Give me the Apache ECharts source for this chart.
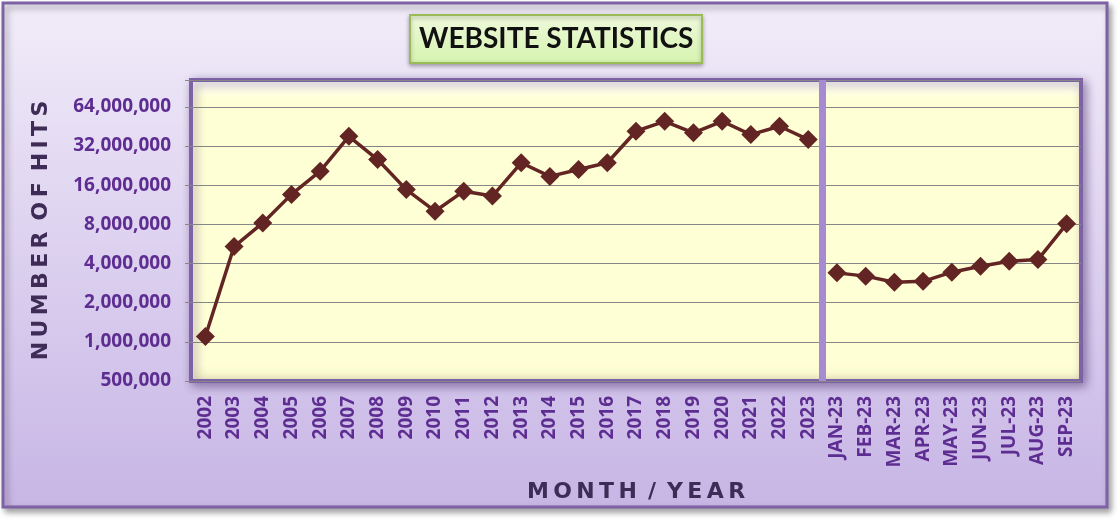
<!DOCTYPE html>
<html>
<head>
<meta charset="utf-8">
<script src="https://cdn.jsdelivr.net/npm/echarts@6/dist/echarts.min.js"></script>
<style>
html,body{margin:0;padding:0;background:#ffffff;}
#chart{width:1119px;height:521px;}
</style>
</head>
<body>
<div id="chart"></div>
<script>
// ---- data ----
const YEARS = ['2002','2003','2004','2005','2006','2007','2008','2009','2010','2011','2012','2013','2014','2015','2016','2017','2018','2019','2020','2021','2022','2023'];
const YEAR_HITS = [1100000, 5400000, 8200000, 13600000, 20500000, 38000000, 25200000, 14800000, 10100000, 14400000, 13200000, 23800000, 18700000, 21100000, 23800000, 41600000, 49600000, 40400000, 49600000, 39200000, 45400000, 35900000];
const MONTHS = ['JAN-23','FEB-23','MAR-23','APR-23','MAY-23','JUN-23','JUL-23','AUG-23','SEP-23'];
const MONTH_HITS = [3390000, 3200000, 2870000, 2920000, 3430000, 3810000, 4160000, 4290000, 8070000];
const Y_TICKS = [500000, 1000000, 2000000, 4000000, 8000000, 16000000, 32000000, 64000000];
const Y_MAX = 103000000;

// ---- build ----
const BASE = Y_TICKS[0];
const toLog = v => (v == null ? null : Math.log2(v / BASE));
const categories = YEARS.concat(MONTHS);
const yearSeries = YEAR_HITS.map(toLog).concat(MONTHS.map(() => null));
const monthSeries = YEARS.map(() => null).concat(MONTH_HITS.map(toLog));
// letter-spaced axis names (thin spaces between letters, en spaces between words)
const spaced = s => s.split(' ').map(w => w.split('').join('\u2009')).join('\u2002');

const labelColor = '#5E2D91';
const nameColor = '#3E2C57';
const frameColor = '#7E62A6';
const lineColor = '#632523';

const chart = echarts.init(document.getElementById('chart'), null, {renderer: 'canvas'});
const W = 1119;

const lineSeries = (data) => ({
  type: 'line',
  data: data,
  xAxisIndex: 0,
  yAxisIndex: 0,
  connectNulls: false,
  symbol: 'diamond',
  symbolSize: 19,
  lineStyle: {color: lineColor, width: 3.5},
  itemStyle: {color: lineColor},
  animation: false,
  z: 5
});

chart.setOption({
  animation: false,
  graphic: [{
    type: 'rect',
    z: -10,
    shape: {x: 3, y: 3, width: 1104, height: 504},
    style: {
      fill: new echarts.graphic.LinearGradient(0, 0, 0, 1, [
        {offset: 0, color: '#F1ECF9'},
        {offset: 1, color: '#C7B5E5'}
      ]),
      stroke: frameColor,
      lineWidth: 3,
      shadowBlur: 6,
      shadowOffsetX: 3,
      shadowOffsetY: 4,
      shadowColor: 'rgba(0,0,0,0.35)'
    }
  }],
  title: {
    text: 'WEBSITE STATISTICS',
    left: 410,
    top: 15,
    padding: [8, 9, 8, 9],
    backgroundColor: new echarts.graphic.LinearGradient(0, 0, 0, 1, [
      {offset: 0, color: '#EEF9DC'},
      {offset: 1, color: '#D6F3AE'}
    ]),
    borderColor: '#9BBB59',
    borderWidth: 2,
    shadowBlur: 4,
    shadowOffsetY: 2,
    shadowColor: 'rgba(0,0,0,0.3)',
    textStyle: {
      fontFamily: 'Lato',
      fontWeight: 'bold',
      fontSize: 28,
      lineHeight: 32,
      color: '#111111'
    }
  },
  grid: {
    left: 191,
    right: W - 1081,
    top: 80,
    bottom: 140,
    show: true,
    backgroundColor: new echarts.graphic.LinearGradient(0, 0, 0, 1, [
      {offset: 0, color: '#FFFFFF'},
      {offset: 0.07, color: '#FFFFD6'},
      {offset: 0.94, color: '#FFFFD6'},
      {offset: 1, color: '#F4F2C6'}
    ]),
    borderColor: frameColor,
    borderWidth: 4,
    shadowBlur: 10,
    shadowOffsetX: 3,
    shadowOffsetY: 3,
    shadowColor: 'rgba(60,30,90,0.45)'
  },
  xAxis: [{
    type: 'category',
    data: categories,
    boundaryGap: true,
    axisLine: {show: false},
    axisTick: {show: false},
    axisLabel: {
      rotate: 90,
      interval: 0,
      margin: 15,
      color: labelColor,
      fontFamily: 'Open Sans',
      fontWeight: 'bold',
      fontSize: 19
    },
    name: spaced('MONTH / YEAR'),
    nameLocation: 'middle',
    nameGap: 100,
    nameTextStyle: {
      color: nameColor,
      fontFamily: 'DejaVu Sans',
      fontWeight: 'bold',
      fontSize: 22
    }
  }, {
    type: 'value',
    min: 0,
    max: categories.length,
    show: false
  }],
  yAxis: {
    type: 'value',
    min: 0,
    max: Math.log2(Y_MAX / BASE),
    interval: 1,
    axisLine: {show: false},
    axisTick: {show: true, length: 6, lineStyle: {color: '#888888'}},
    splitLine: {show: true, lineStyle: {color: '#868686', width: 1}},
    axisLabel: {
      margin: 20,
      color: labelColor,
      fontFamily: 'Open Sans',
      fontWeight: 'bold',
      fontSize: 19,
      formatter: function (v) {
        const i = Math.round(v);
        if (Math.abs(v - i) > 1e-6 || i >= Y_TICKS.length) return '';
        return Y_TICKS[i].toLocaleString('en-US');
      }
    },
    name: spaced('NUMBER OF HITS'),
    nameLocation: 'middle',
    nameRotate: 90,
    nameGap: 139,
    nameTextStyle: {
      color: nameColor,
      fontFamily: 'DejaVu Sans',
      fontWeight: 'bold',
      fontSize: 22
    }
  },
  series: [
    lineSeries(yearSeries),
    lineSeries(monthSeries),
    {
      type: 'line',
      xAxisIndex: 1,
      yAxisIndex: 0,
      data: [],
      silent: true,
      markLine: {
        silent: true,
        symbol: ['none', 'none'],
        label: {show: false},
        lineStyle: {color: '#A68BD2', width: 7, type: 'solid'},
        data: [{xAxis: YEARS.length}]
      },
      z: 3
    }
  ]
});
</script>
</body>
</html>
